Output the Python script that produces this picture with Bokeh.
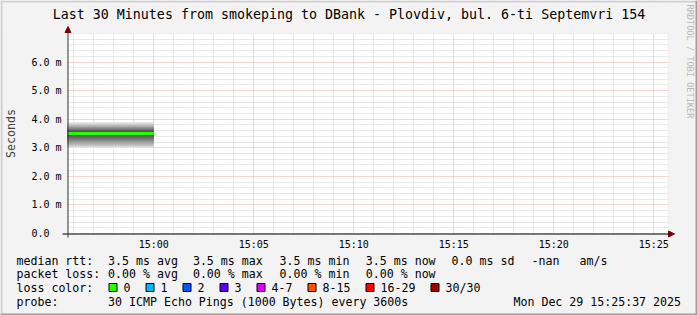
import math
import pandas as pd
from bokeh.plotting import figure
from bokeh.models import (Label, Arrow, NormalHead, BoxAnnotation, FixedTicker, Range1d)
from bokeh.embed import file_html
from bokeh.resources import INLINE

# ---------------- data ----------------
title_text = "Last 30 Minutes from smokeping to DBank - Plovdiv, bul. 6-ti Septemvri 154"
window_start = "2025-12-29 14:55:41"
window_end = "2025-12-29 15:25:41"
bin_start = ["2025-12-29 14:00:00"]
bin_end = ["2025-12-29 15:00:00"]
median_ms = [3.5]
# 30 sorted ping round-trip times (ms) for the single bin
pings_ms = [3.00, 3.03, 3.06, 3.09, 3.12, 3.16, 3.20, 3.24, 3.28, 3.32,
            3.36, 3.40, 3.44, 3.47, 3.49, 3.51, 3.54, 3.57, 3.60, 3.62,
            3.65, 3.67, 3.70, 3.72, 3.74, 3.77, 3.80, 3.83, 3.86, 3.89]
y_max_ms = 7.0
y_tick_values = [0, 1, 2, 3, 4, 5, 6]
y_tick_labels = ["0.0\u00a0\u00a0", "1.0 m", "2.0 m", "3.0 m", "4.0 m", "5.0 m", "6.0 m"]
x_tick_times = ["2025-12-29 15:00", "2025-12-29 15:05", "2025-12-29 15:10",
                "2025-12-29 15:15", "2025-12-29 15:20", "2025-12-29 15:25"]
x_tick_labels = ["15:00", "15:05", "15:10", "15:15", "15:20", "15:25"]
y_axis_title = "Seconds"

rtt_title = "median rtt:"
rtt_fields = ["3.5 ms avg", "3.5 ms max", "3.5 ms min", "3.5 ms now", "0.0 ms sd", "-nan", "am/s"]
loss_title = "packet loss:"
loss_fields = ["0.00 % avg", "0.00 % max", "0.00 % min", "0.00 % now"]
color_title = "loss color:"
loss_bins = ["0", "1", "2", "3", "4-7", "8-15", "16-29", "30/30"]
loss_colors = ["#26ff00", "#00b8ff", "#0059ff", "#5e00ff", "#dd00ff", "#ff5500", "#ff0000", "#a10000"]
probe_title = "probe:"
probe_text = "30 ICMP Echo Pings (1000 Bytes) every 3600s"
stamp_text = "Mon Dec 29 15:25:37 2025"
watermark = "RRDTOOL / TOBI OETIKER"

# ---------------- layout / style ----------------
W, H = 697, 315
FL, FR, FT, FB = 67, 667, 33, 233          # plot area in canvas pixels
FONT = "DejaVu Sans Mono"
BG = "#f3f3f3"

t0 = pd.Timestamp(window_start)
t1 = pd.Timestamp(window_end)
def ms(t):
    return pd.Timestamp(t).value / 1e6

x0_ms, x1_ms = ms(t0), ms(t1)
px_per_ms = (FR - FL) / (x1_ms - x0_ms)

def X(px):
    return x0_ms + (px - FL) / px_per_ms

def Y(py):
    return (FB - py) * y_max_ms / (FB - FT)

p = figure(width=W, height=H, output_backend="svg", toolbar_location=None,
           x_range=Range1d(X(0), X(W)), y_range=Range1d(Y(H), Y(0)),
           min_border=0)
p.background_fill_color = BG
p.border_fill_color = BG
p.outline_line_color = None

# white plotting canvas
p.add_layout(BoxAnnotation(left=X(FL), right=X(FR), top=Y(FT), bottom=Y(FB),
                           fill_color="white", fill_alpha=1, line_alpha=0, level="image"))

# ticks / grids
x_major = [ms(t) for t in x_tick_times]
x_minor = [ms(t0.ceil("min") + pd.Timedelta(minutes=k)) for k in range(0, 31)]
x_minor = [v for v in x_minor if v <= x1_ms and v not in x_major]
y_minor = [round(k * 0.2, 1) for k in range(0, 36)]
y_minor = [v for v in y_minor if v not in y_tick_values]

xt = FixedTicker(ticks=x_major, minor_ticks=x_minor)
yt = FixedTicker(ticks=y_tick_values, minor_ticks=y_minor)
p.xaxis.ticker = xt
p.yaxis.ticker = yt
p.xgrid.ticker = xt
p.ygrid.ticker = yt
p.xaxis.major_label_overrides = {v: l for v, l in zip(x_major, x_tick_labels)}
p.yaxis.major_label_overrides = {v: l for v, l in zip(y_tick_values, y_tick_labels)}
p.xaxis.fixed_location = 0
p.yaxis.fixed_location = x0_ms
p.yaxis.bounds = (0, y_max_ms)
p.xaxis.bounds = (x0_ms, x1_ms)

for g in (p.xgrid, p.ygrid):
    g.grid_line_color = "#eeaaaa"
    g.grid_line_dash = "1 1"
    g.grid_line_width = 1
    g.minor_grid_line_color = "#d2d2d2"
    g.minor_grid_line_dash = "1 1"
    g.minor_grid_line_width = 1

for ax in (p.xaxis, p.yaxis):
    ax.axis_line_color = None
    ax.major_tick_line_color = None
    ax.minor_tick_line_color = None
    ax.major_tick_out = 0
    ax.major_tick_in = 0
    ax.minor_tick_out = 0
    ax.minor_tick_in = 0
    ax.major_label_text_font = FONT
    ax.major_label_text_font_size = "10px"
    ax.major_label_text_color = "black"
p.xaxis.major_label_standoff = 5
p.yaxis.major_label_standoff = 6
p.yaxis.axis_label = y_axis_title
p.yaxis.axis_label_text_font = FONT
p.yaxis.axis_label_text_font_size = "11.6px"
p.yaxis.axis_label_text_font_style = "normal"
p.yaxis.axis_label_standoff = 10

# cover grid lines outside the plotting canvas
def box(l, r, t, b, fill, line=None, level="underlay"):
    p.add_layout(BoxAnnotation(left=X(l), right=X(r), top=Y(t), bottom=Y(b),
                               fill_color=fill, fill_alpha=1, line_color=line or "black",
                               line_alpha=1 if line else 0, line_width=1, level=level))

box(0, FL, 0, H, BG)
box(FR + 1, W, 0, H, BG)
box(FL, FR + 1, 0, FT, BG)
box(FL, FR + 1, FB, H, BG)

# smoke (clipped to the visible window like rrdtool does)
half = len(pings_ms) // 2
lefts, rights, bots, tops, cols = [], [], [], [], []
for ibot in range(1, half + 1):
    itop = len(pings_ms) + 1 - ibot
    shade = int(190 / half * (half - ibot)) + 50
    for bs, be in zip(bin_start, bin_end):
        lefts.append(max(ms(bs), x0_ms)); rights.append(min(ms(be), x1_ms))
        bots.append(pings_ms[ibot - 1]); tops.append(pings_ms[itop - 1])
        cols.append("#%02x%02x%02x" % (shade, shade, shade))
p.quad(left=lefts, right=rights, bottom=bots, top=tops, fill_color=cols, line_color=None)

# median
p.segment(x0=[max(ms(b), x0_ms) for b in bin_start], x1=[min(ms(b), x1_ms) for b in bin_end],
          y0=median_ms, y1=median_ms, line_color="#26ff00", line_width=3)

# axes lines with arrows
head_c = "#7f0000"
p.add_layout(Arrow(end=NormalHead(size=6, fill_color=head_c, line_color=head_c, line_width=1),
                   x_start=X(62), y_start=Y(FB + 0.5), x_end=X(674), y_end=Y(FB + 0.5),
                   line_color="black", line_width=1))
p.add_layout(Arrow(end=NormalHead(size=6, fill_color=head_c, line_color=head_c, line_width=1),
                   x_start=X(FL + 0.5), y_start=Y(237), x_end=X(FL + 0.5), y_end=Y(26),
                   line_color="#303030", line_width=1))

# frame shading
box(0, 2, 0, H, "#cfcfcf", level="overlay")
box(0, W, 0, 2, "#cfcfcf", level="overlay")
box(W - 2, W, 0, H, "#9e9e9e", level="overlay")
box(0, W, H - 2, H, "#9e9e9e", level="overlay")

def text(px, py, s, size="11.6px", align="left", color="black", angle=0):
    p.add_layout(Label(x=X(px), y=Y(py), text=s, text_font=FONT, text_font_size=size,
                       text_align=align, text_baseline="middle", text_color=color,
                       angle=angle))

text(W / 2, 13.5, title_text, size="13.3px", align="center")
text(689.5, 4, watermark, size="8.6px", color="#b8b8b8", angle=-math.pi / 2)

col0 = 16
line_y = [260, 273.5, 287, 301]
field_x = [107.6, 192.4, 279.1, 365.3, 451.1, 531.1, 579.1]
text(col0, line_y[0], rtt_title)
for fx, s in zip(field_x, rtt_fields):
    text(fx, line_y[0], s)
text(col0, line_y[1], loss_title)
for fx, s in zip(field_x, loss_fields):
    text(fx, line_y[1], s)
text(col0, line_y[2], color_title)
sq_x = [108.5, 145.5, 182.5, 219.5, 256.5, 307.5, 365.5, 430.5]
for sx, lab, c in zip(sq_x, loss_bins, loss_colors):
    box(sx, sx + 8, line_y[2] - 4, line_y[2] + 4, c, "black", level="annotation")
    text(sx + 14.6, line_y[2], lab)
text(col0, line_y[3], probe_title)
text(107.6, line_y[3], probe_text)
text(680.5, line_y[3], stamp_text, align="right")

open("out.html", "w").write(file_html(p, INLINE))
